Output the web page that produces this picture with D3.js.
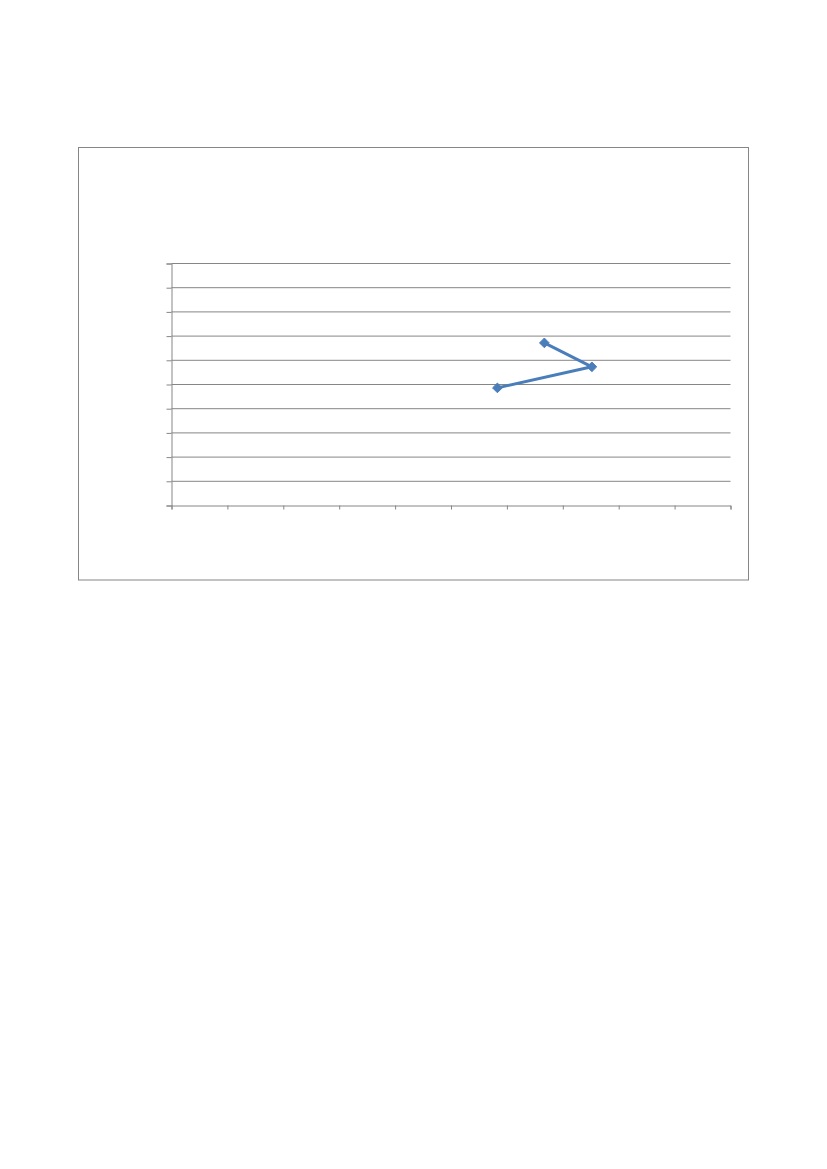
<!DOCTYPE html>
<html>
<head>
<meta charset="utf-8">
<script src="https://cdn.jsdelivr.net/npm/d3@7"></script>
<style>
  html, body { margin: 0; padding: 0; background: #fff; }
</style>
</head>
<body>
<div id="chart"></div>
<script>
// Series values (no axis labels in the original)
const xValues = [6.67, 7.52, 5.83];
const yValues = [6.72, 5.73, 4.86];
const xTicks = [0, 1, 2, 3, 4, 5, 6, 7, 8, 9, 10];
const yTicks = [0, 1, 2, 3, 4, 5, 6, 7, 8, 9, 10];

const width = 827, height = 1169;
const frame = {x: 78.5, y: 147.5, w: 670, h: 432.5};
const margin = {top: 263.5, left: 171.5, right: 96.5, bottom: 663.5};
const innerW = width - margin.left - margin.right;
const innerH = height - margin.top - margin.bottom;
const grey = '#868686';

const svg = d3.select('#chart').append('svg')
    .attr('width', width)
    .attr('height', height);

// Chart frame
svg.append('rect')
    .attr('x', frame.x).attr('y', frame.y)
    .attr('width', frame.w).attr('height', frame.h)
    .attr('fill', '#fff')
    .attr('stroke', grey)
    .attr('stroke-width', 1);

const x = d3.scaleLinear().domain([0, 10]).range([0, innerW]);
const y = d3.scaleLinear().domain([0, 10]).range([innerH, 0]);

const g = svg.append('g')
    .attr('transform', `translate(${margin.left},${margin.top})`);

// Horizontal gridlines
g.append('g')
  .selectAll('line')
  .data(yTicks.slice(1))
  .join('line')
    .attr('x1', 0).attr('x2', innerW)
    .attr('y1', d => y(d)).attr('y2', d => y(d))
    .attr('stroke', grey);

// Axes without labels
const yAxis = g.append('g')
    .call(d3.axisLeft(y).tickValues(yTicks).tickSize(5).tickFormat(''));
const xAxis = g.append('g')
    .attr('transform', `translate(0,${innerH})`)
    .call(d3.axisBottom(x).tickValues(xTicks).tickSize(4).tickFormat(''));
[yAxis, xAxis].forEach(a => {
  a.select('.domain').attr('stroke', grey);
  a.selectAll('.tick line').attr('stroke', grey);
});

// Series line
const pts = xValues.map((v, i) => [v, yValues[i]]);
g.append('path')
    .datum(pts)
    .attr('fill', 'none')
    .attr('stroke', '#4a7ebb')
    .attr('stroke-width', 3)
    .attr('stroke-linejoin', 'round')
    .attr('d', d3.line().x(d => x(d[0])).y(d => y(d[1])));

// Diamond markers
g.append('g')
  .selectAll('path')
  .data(pts)
  .join('path')
    .attr('transform', d => `translate(${x(d[0])},${y(d[1])})`)
    .attr('d', d3.symbol(d3.symbolDiamond2, 60))
    .attr('fill', '#4a7ebb')
    .attr('stroke', '#4a7ebb')
    .attr('stroke-width', 1);
</script>
</body>
</html>
